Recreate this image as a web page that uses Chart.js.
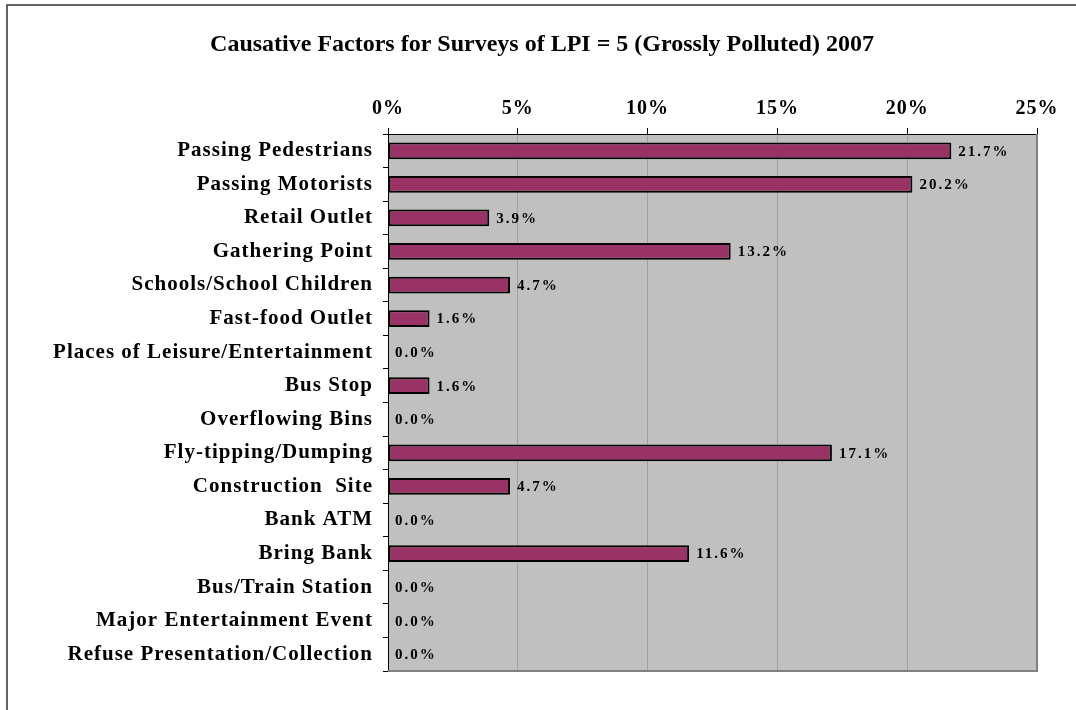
<!DOCTYPE html>
<html>
<head>
<meta charset="utf-8">
<script src="https://cdn.jsdelivr.net/npm/chart.js@4"></script>
<style>
  html, body { margin: 0; padding: 0; background: #fff; }
  #wrap { width: 1076px; height: 710px; }
</style>
</head>
<body>
<div id="wrap"><canvas id="barChart" width="1076" height="710"></canvas></div>
<script>
// categories and values
var factors = ["Passing Pedestrians", "Passing Motorists", "Retail Outlet", "Gathering Point",
  "Schools/School Children", "Fast-food Outlet", "Places of Leisure/Entertainment", "Bus Stop",
  "Overflowing Bins", "Fly-tipping/Dumping", "Construction  Site", "Bank ATM", "Bring Bank",
  "Bus/Train Station", "Major Entertainment Event", "Refuse Presentation/Collection"];
var percents = [21.7, 20.2, 3.9, 13.2, 4.7, 1.6, 0.0, 1.6, 0.0, 17.1, 4.7, 0.0, 11.6, 0.0, 0.0, 0.0];
var xTicks = [0, 5, 10, 15, 20, 25];
var chartTitle = 'Causative Factors for Surveys of LPI = 5 (Grossly Polluted) 2007';

var serif = "'Liberation Serif', 'Times New Roman', serif";

// grey plot area, outer frame, title and the darker right/bottom edge
var frame = {
  id: 'frame',
  beforeDraw: function(chart) {
    var ctx = chart.ctx, a = chart.chartArea;
    ctx.save();
    ctx.fillStyle = '#c0c0c0';
    ctx.fillRect(a.left, a.top, a.right - a.left, a.bottom - a.top);
    ctx.strokeStyle = '#333';
    ctx.lineWidth = 1.5;
    ctx.beginPath();
    ctx.moveTo(7, 710);
    ctx.lineTo(7, 5);
    ctx.lineTo(1076, 5);
    ctx.stroke();
    ctx.letterSpacing = '0px';
    ctx.fillStyle = '#000';
    ctx.font = 'bold 24px ' + serif;
    ctx.textAlign = 'center';
    ctx.textBaseline = 'alphabetic';
    ctx.fillText(chartTitle, 542, 51);
    ctx.restore();
    ctx.letterSpacing = '1px';
  },
  beforeDatasetsDraw: function(chart) {
    var ctx = chart.ctx, a = chart.chartArea;
    ctx.save();
    ctx.strokeStyle = '#808080';
    ctx.lineWidth = 2;
    ctx.beginPath();
    ctx.moveTo(a.left, a.bottom);
    ctx.lineTo(a.right, a.bottom);
    ctx.lineTo(a.right, a.top);
    ctx.stroke();
    ctx.restore();
  }
};

// value labels at the end of each bar
var barLabels = {
  id: 'barLabels',
  afterDatasetsDraw: function(chart) {
    var ctx = chart.ctx;
    ctx.save();
    ctx.font = 'bold 15px ' + serif;
    ctx.letterSpacing = '2px';
    ctx.fillStyle = '#000';
    ctx.textBaseline = 'middle';
    chart.getDatasetMeta(0).data.forEach(function(bar, i) {
      ctx.fillText(percents[i].toFixed(1) + '%', bar.x + 7, bar.y + 1);
    });
    ctx.restore();
  }
};

var ctx = document.getElementById('barChart').getContext('2d');
var chart = new Chart(ctx, {
  type: 'bar',
  data: {
    labels: factors,
    datasets: [{
      data: percents,
      backgroundColor: '#993366',
      borderColor: '#000',
      borderWidth: 2,
      borderSkipped: false,
      barPercentage: 0.5,
      categoryPercentage: 1.0
    }]
  },
  options: {
    indexAxis: 'y',
    responsive: false,
    devicePixelRatio: 1,
    animation: false,
    events: [],
    layout: { padding: { left: 10, right: 39, top: 0, bottom: 39 } },
    plugins: {
      legend: { display: false },
      tooltip: { enabled: false },
      title: { display: false }
    },
    scales: {
      x: {
        position: 'top',
        min: 0,
        max: 25,
        afterFit: function(scale) { scale.height = 134; },
        afterBuildTicks: function(scale) {
          scale.ticks = xTicks.map(function(v) { return { value: v }; });
        },
        ticks: {
          color: '#000',
          padding: 7,
          font: { family: serif, size: 20, weight: 'bold' },
          callback: function(v) { return v + '%'; }
        },
        grid: { color: '#a0a0a0', tickColor: '#000', tickLength: 6, lineWidth: 1 },
        border: { color: '#000', width: 1 }
      },
      y: {
        afterFit: function(scale) { scale.width = 378; },
        ticks: {
          color: '#000',
          padding: 10,
          autoSkip: false,
          font: { family: serif, size: 21, weight: 'bold' }
        },
        grid: { drawOnChartArea: false, tickColor: '#000', tickLength: 5, offset: true },
        border: { color: '#000', width: 1 }
      }
    }
  },
  plugins: [frame, barLabels]
});
</script>
</body>
</html>
